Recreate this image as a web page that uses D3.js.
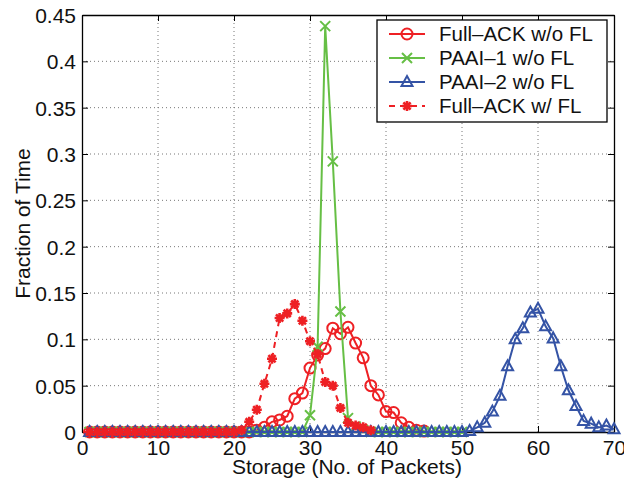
<!DOCTYPE html>
<html>
<head>
<meta charset="utf-8">
<script src="https://cdn.jsdelivr.net/npm/d3@7"></script>
<style>
  body { margin: 0; background: #fff; }
  svg { font-family: "Liberation Sans", Arial, sans-serif; }
</style>
</head>
<body>
<svg id="chart" width="624" height="483"></svg>
<script>
// storage values (no. of packets)
var storage = [1,2,3,4,5,6,7,8,9,10, 11,12,13,14,15,16,17,18,19,20,
               21,22,23,24,25,26,27,28,29,30, 31,32,33,34,35,36,37,38,39,40,
               41,42,43,44,45,46,47,48,49,50, 51,52,53,54,55,56,57,58,59,60,
               61,62,63,64,65,66,67,68,69,70];

// fraction of time, one entry per storage value starting at 1
var fullAckNoFL = [0,0,0,0,0,0,0,0,0,0, 0,0,0,0,0,0,0,0,0,0,
                   0,0,0.002,0.005,0.011,0.013,0.017,0.036,0.042,0.069,
                   0.083,0.090,0.112,0.106,0.113,0.096,0.080,0.050,0.040,0.022,
                   0.021,0.010,0.005,0.002,0.001];
var paai1NoFL = [0,0,0,0,0,0,0,0,0,0, 0,0,0,0,0,0,0,0,0,0,
                 0,0,0,0,0,0,0,0,0,0.018,
                 0.092,0.438,0.292,0.130,0.015,0.006,0.002,0,0,0,
                 0,0,0,0,0,0,0,0,0,0];
var paai2NoFL = [0,0,0,0,0,0,0,0,0,0, 0,0,0,0,0,0,0,0,0,0,
                 0,0,0,0,0,0,0,0,0,0, 0,0,0,0,0,0,0,0,0,0,
                 0,0,0,0,0,0,0,0,0,0,
                 0.001,0.005,0.010,0.022,0.039,0.071,0.100,0.112,0.129,0.133,
                 0.114,0.101,0.071,0.045,0.028,0.012,0.009,0.005,0.007,0.003];
var fullAckFL = [0,0,0,0,0,0,0,0,0,0, 0,0,0,0,0,0,0,0,0,0,
                 0.002,0.011,0.024,0.052,0.079,0.123,0.128,0.138,0.120,0.098,
                 0.084,0.054,0.050,0.026,0.010,0.007,0.005,0.002];

var xTicks = [0,10,20,30,40,50,60,70];
var yTicks = [0,0.05,0.1,0.15,0.2,0.25,0.3,0.35,0.4,0.45];

var seriesNames = ["Full\u2013ACK w/o FL", "PAAI\u20131 w/o FL", "PAAI\u20132 w/o FL", "Full\u2013ACK w/ FL"];
var seriesValues = [fullAckNoFL, paai1NoFL, paai2NoFL, fullAckFL];
var seriesColors = ["#ee2024", "#66bf45", "#3453a5", "#ee2024"];
var seriesMarkers = ["circle", "x", "triangle", "star"];
var seriesDash = [null, null, null, "6,5"];

var svg = d3.select("#chart");
var margin = {left: 82, right: 10, top: 15, bottom: 51};
var W = 624, H = 483;

var x = d3.scaleLinear().domain([0, 70]).range([margin.left, W - margin.right]);
var y = d3.scaleLinear().domain([0, 0.45]).range([H - margin.bottom, margin.top]);

// grid
var grid = svg.append("g");
grid.selectAll(".gx").data(xTicks.slice(1, -1)).enter().append("line")
    .attr("x1", d => x(d)).attr("x2", d => x(d))
    .attr("y1", y(0)).attr("y2", y(0.45))
    .attr("stroke", "#777").attr("stroke-width", 1).attr("stroke-dasharray", "1,3");
grid.selectAll(".gy").data(yTicks.slice(1, -1)).enter().append("line")
    .attr("y1", d => y(d)).attr("y2", d => y(d))
    .attr("x1", x(0)).attr("x2", x(70))
    .attr("stroke", "#777").attr("stroke-width", 1).attr("stroke-dasharray", "1,3");

// axes (ticks inward, box on)
var fmt = d => d3.format("")(+d.toFixed(2));
var axB = svg.append("g").attr("transform", "translate(0," + y(0) + ")")
    .call(d3.axisBottom(x).tickValues(xTicks).tickSizeInner(-6).tickSizeOuter(0).tickPadding(9));
var axT = svg.append("g").attr("transform", "translate(0," + y(0.45) + ")")
    .call(d3.axisTop(x).tickValues(xTicks).tickSizeInner(-6).tickSizeOuter(0).tickFormat(""));
var axL = svg.append("g").attr("transform", "translate(" + x(0) + ",0)")
    .call(d3.axisLeft(y).tickValues(yTicks).tickSizeInner(-6).tickSizeOuter(0).tickPadding(6).tickFormat(fmt));
var axR = svg.append("g").attr("transform", "translate(" + x(70) + ",0)")
    .call(d3.axisRight(y).tickValues(yTicks).tickSizeInner(-6).tickSizeOuter(0).tickFormat(""));
[axB, axT, axL, axR].forEach(function (a) {
    a.select(".domain").attr("stroke", "#000").attr("stroke-width", 1.3);
    a.selectAll(".tick line").attr("stroke", "#000").attr("stroke-width", 1);
    a.selectAll(".tick text").attr("font-size", 21).attr("fill", "#111")
        .attr("font-family", "'Liberation Sans', Arial, sans-serif");
});
axL.selectAll(".tick text").attr("dy", "0.36em");
axB.selectAll(".tick text").attr("dy", "0.68em");

// marker paths
function markerPath(type) {
    if (type === "circle") return d3.symbol(d3.symbolCircle, 95)();
    if (type === "x") return "M-5,-5L5,5M-5,5L5,-5";
    if (type === "triangle") return "M0,-6L5.5,4L-5.5,4Z";
    if (type === "star") return "M-5,0L5,0M0,-5L0,5M-3.6,-3.6L3.6,3.6M-3.6,3.6L3.6,-3.6";
}

var line = d3.line().x(d => x(d[0])).y(d => y(d[1]));

seriesValues.forEach(function (vals, i) {
    var pts = vals.map((v, j) => [storage[j], v]);
    var g = svg.append("g");
    g.append("path").attr("d", line(pts))
        .attr("fill", "none").attr("stroke", seriesColors[i]).attr("stroke-width", 2)
        .attr("stroke-dasharray", seriesDash[i]);
    g.selectAll("path.m").data(pts).enter().append("path")
        .attr("class", "m")
        .attr("transform", d => "translate(" + x(d[0]) + "," + y(d[1]) + ")")
        .attr("d", markerPath(seriesMarkers[i]))
        .attr("fill", "none").attr("stroke", seriesColors[i])
        .attr("stroke-width", seriesMarkers[i] === "star" ? 2.6 : 2);
});

// axis labels
svg.append("text").attr("x", (x(0) + x(70)) / 2 - 1).attr("y", 474)
    .attr("text-anchor", "middle").attr("font-size", 21).attr("fill", "#111")
    .text("Storage (No. of Packets)");
svg.append("text")
    .attr("transform", "translate(30," + (y(0) + y(0.45)) / 2 + ") rotate(-90)")
    .attr("text-anchor", "middle").attr("font-size", 21).attr("fill", "#111")
    .text("Fraction of Time");

// legend
var lg = svg.append("g");
lg.append("rect").attr("x", 377).attr("y", 20).attr("width", 230).attr("height", 102)
    .attr("fill", "#fff").attr("stroke", "#000").attr("stroke-width", 1.3);
seriesNames.forEach(function (name, i) {
    var cy = 34 + i * 24;
    lg.append("line").attr("x1", 389).attr("x2", 425).attr("y1", cy).attr("y2", cy)
        .attr("stroke", seriesColors[i]).attr("stroke-width", 2)
        .attr("stroke-dasharray", seriesDash[i]);
    lg.append("path").attr("transform", "translate(407," + cy + ")")
        .attr("d", markerPath(seriesMarkers[i]))
        .attr("fill", "none").attr("stroke", seriesColors[i])
        .attr("stroke-width", seriesMarkers[i] === "star" ? 2.6 : 2);
    lg.append("text").attr("x", 439).attr("y", cy).attr("dy", "0.36em")
        .attr("font-size", 20.5).attr("fill", "#111").text(name);
});
</script>
</body>
</html>
